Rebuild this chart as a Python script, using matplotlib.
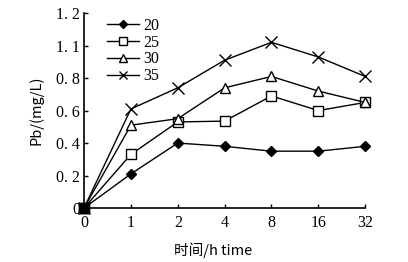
import matplotlib
matplotlib.use("Agg")
import matplotlib.pyplot as plt

# sampling times (categorical positions on the x axis)
time_labels = ["0", "1", "2", "4", "8", "16", "32"]
y_tick_labels = ["0", "0. 2", "0. 4", "0. 6", "0. 8", "1. 1", "1. 2"]
y_ticks = [0, 0.2, 0.4, 0.6, 0.8, 1.0, 1.2]

# Pb concentration (mg/L) at each temperature
pb_20 = [0.0, 0.21, 0.40, 0.38, 0.35, 0.35, 0.38]
pb_25 = [0.0, 0.33, 0.53, 0.535, 0.69, 0.60, 0.65]
pb_30 = [0.0, 0.51, 0.55, 0.74, 0.81, 0.72, 0.65]
pb_35 = [0.0, 0.61, 0.74, 0.91, 1.02, 0.93, 0.81]
series_names = ["20", "25", "30", "35"]

plt.rcParams['font.family'] = ['Liberation Serif', 'DejaVu Serif']

fig = plt.figure(figsize=(4.08, 2.62), dpi=100)
ax = fig.add_axes([0.206, 0.206, 0.689, 0.744])

x = list(range(len(time_labels)))
ax.plot(x, pb_20, color='black', lw=1, marker='D', ms=5, mfc='black', label=series_names[0], clip_on=False)
ax.plot(x, pb_25, color='black', lw=1, marker='s', ms=7, mfc='white', mew=1, label=series_names[1], clip_on=False)
ax.plot(x, pb_30, color='black', lw=1, marker='^', ms=7, mfc='white', mew=1, label=series_names[2], clip_on=False)
ax.plot(x, pb_35, color='black', lw=1, marker='x', ms=8, mew=1, label=series_names[3], clip_on=False)
# overlapping markers at the origin look like one black block
ax.plot([0], [0], color='black', marker='s', ms=7, clip_on=False, zorder=5)

ax.set_xlim(0, 6)
ax.set_ylim(0, 1.2)
ax.set_xticks(x)
ax.set_xticklabels(time_labels, fontsize=11.5)
ax.set_yticks(y_ticks)
ax.set_yticklabels(y_tick_labels, fontsize=11.5)
ax.tick_params(direction='in', length=3, width=1)
ax.tick_params(axis='x', pad=5)
ax.tick_params(axis='y', pad=3)
ax.spines['top'].set_visible(False)
ax.spines['right'].set_visible(False)
for s in ['left', 'bottom']:
    ax.spines[s].set_linewidth(1.2)

ax.set_xlabel("时间/h time", fontsize=10.5, family=['Noto Sans CJK SC', 'DejaVu Sans'])
ax.set_ylabel("Pb/(mg/L)", fontsize=10.5, family=['Noto Sans CJK SC', 'DejaVu Sans'])
ax.xaxis.set_label_coords(0.46, -0.175)
ax.yaxis.set_label_coords(-0.145, 0.5)

leg = ax.legend(loc='upper left', bbox_to_anchor=(0.03, 1.05), frameon=False, fontsize=11.5,
                handlelength=2.0, handletextpad=0.3, labelspacing=0.05, markerscale=0.75)

fig.savefig("out.png", dpi=100)
